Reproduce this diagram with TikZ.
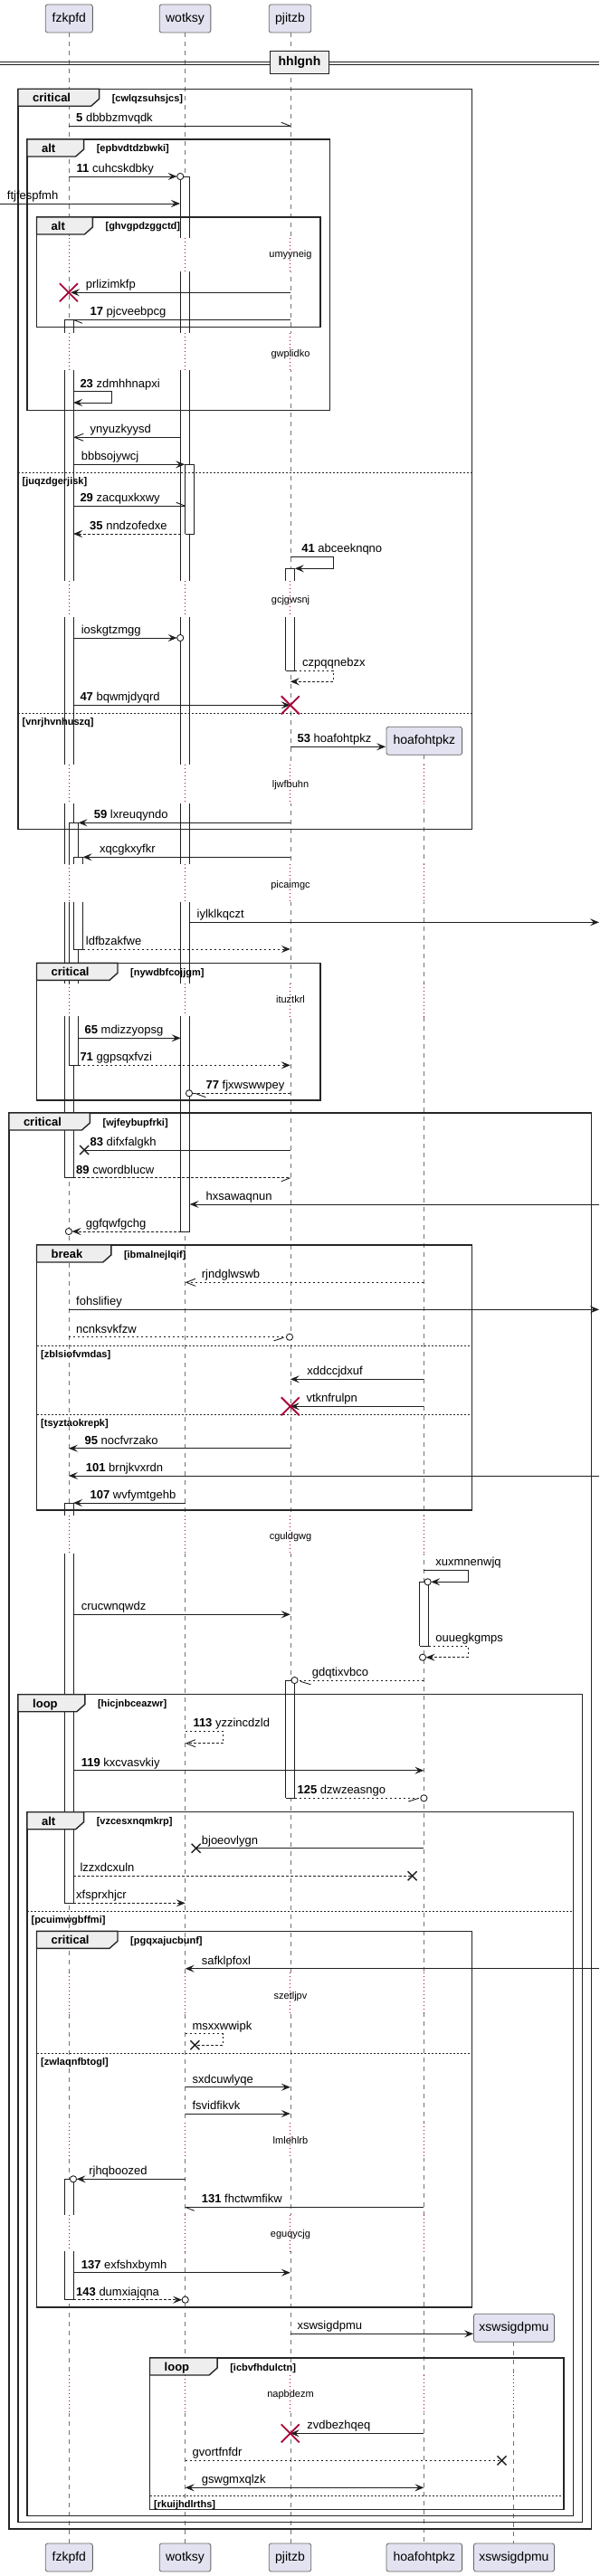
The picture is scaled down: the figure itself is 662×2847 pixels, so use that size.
\documentclass[tikz,border=0pt]{standalone}
\usepackage{fontspec}
\setmainfont{Liberation Sans}
\usetikzlibrary{arrows.meta}
\definecolor{crim}{RGB}{168,0,54}
\definecolor{partfill}{RGB}{226,226,240}
\definecolor{tabfill}{RGB}{238,238,238}
\tikzset{
  msg/.style={line width=0.9pt, draw=black!88},
  dmsg/.style={msg, dash pattern=on 2.5pt off 2.5pt},
  fh/.style={-{Stealth[length=10pt,width=8pt,inset=4pt]}},
  oh/.style={-{Straight Barb[length=10pt,width=8pt]}},
  life/.style={draw=black!55, line width=0.6pt, dash pattern=on 5pt off 5pt},
  dotl/.style={draw=crim, line width=0.8pt, dash pattern=on 0.8pt off 3.2pt},
  actl/.style={draw=black!88, line width=0.8pt},
  frame/.style={draw=black!85, line width=1.4pt},
  sepl/.style={draw=black!85, line width=0.8pt, dash pattern=on 2pt off 2pt},
  part/.style={draw=black!60, line width=0.8pt, fill=partfill, rounded corners=2.5pt, minimum height=31pt, inner sep=0pt, font=\fontsize{14}{16}\selectfont},
  lbl/.style={anchor=base west, inner sep=0pt, font=\fontsize{13}{15}\selectfont},
  flabel/.style={anchor=base west, inner sep=0pt, font=\bfseries\fontsize{13}{15}\selectfont},
  guard/.style={anchor=base west, inner sep=0pt, font=\bfseries\fontsize{11}{13}\selectfont},
  dtext/.style={anchor=base, inner sep=0pt, font=\fontsize{11}{13}\selectfont},
}
\newcommand\lbl[3]{\node[lbl] at (#1,#2-4.5) {#3};}
\newcommand\hh[4]{\draw[msg] (#1,#2) -- ++(#3,#4);}
\newcommand\cend[2]{\draw[msg,fill=white] (#1,#2) circle[radius=3.6pt];}
\newcommand\bx[2]{\draw[line width=1.4pt,black!88] (#1-5,#2-5) -- (#1+5,#2+5) (#1-5,#2+5) -- (#1+5,#2-5);}
\newcommand\rx[2]{\draw[line width=1.8pt,crim] (#1-10,#2-10) -- (#1+10,#2+10) (#1-10,#2+10) -- (#1+10,#2-10);}
\newcommand\aseg[4]{\fill[white] (#1,#3) rectangle (#2,#4); \draw[actl] (#1,#3) -- (#1,#4) (#2,#3) -- (#2,#4);}
\newcommand\acap[3]{\draw[actl] (#1,#3) -- (#2,#3);}
\newcommand\dly[5]{\foreach \xx in {#5}{\draw[white,line width=2.5pt] (\xx,#1) -- (\xx,#2); \draw[dotl] (\xx,#1) -- (\xx,#2);}
  \node[dtext] at (321,#4+3.5) {#3};}
\newcommand\frm[7]{%
  \draw[frame] (#1,#2) rectangle (#3,#4);
  \filldraw[frame,fill=tabfill] (#1,#2) -- (#5,#2) -- (#5,#2+11) -- (#5-9,#2+19) -- (#1,#2+19) -- cycle;
  \node[flabel] at (#1+16,#2+14.5) {#6};
  \node[guard] at (#5+14,#2+14) {#7};}
\newcommand\frsep[4]{\draw[sepl] (#1,#3) -- (#2,#3); \node[guard] at (#1+4.5,#3+13) {#4};}
\begin{document}
\begin{tikzpicture}[x=1pt,y=-1pt]
\useasboundingbox (0,0) rectangle (662,2847);
% participants
\node[part, minimum width=52.1pt] (pF) at (76.3,20.5) {fzkpfd};
\node[part, minimum width=56.7pt] (pW) at (204.5,20.5) {wotksy};
\node[part, minimum width=46.5pt] (pP) at (320.5,20.5) {pjitzb};
\node[part, minimum width=52.1pt] (pFb) at (76.3,2826.5) {fzkpfd};
\node[part, minimum width=56.7pt] (pWb) at (204.5,2826.5) {wotksy};
\node[part, minimum width=46.5pt] (pPb) at (320.5,2826.5) {pjitzb};
\node[part, minimum width=83.6pt] (pHb) at (468.8,2826.5) {hoafohtpkz};
\node[part, minimum width=89.1pt] (pXb) at (568,2826.5) {xswsigdpmu};
\node[part, minimum width=83.6pt] (pH) at (468.8,818.8) {hoafohtpkz};
\node[part, minimum width=89.1pt] (pX) at (568,2572.8) {xswsigdpmu};
% lifelines
\draw[life] (75.9,36) -- (75.9,2810.7);
\draw[life] (204.7,36) -- (204.7,2810.7);
\draw[life] (320.8,36) -- (320.8,2810.7);
\draw[life] (468.4,834.3) -- (468.4,2810.7);
\draw[life] (567.3,2588.3) -- (567.3,2810.7);
% delays
\dly{263.3}{300}{umyyneig}{280.7}{75.9,204.7,320.8}
\dly{368.3}{409}{gwplidko}{390.7}{75.9,204.7,320.8}
\dly{641.7}{681.7}{gcjgwsnj}{663.3}{75.9,204.7,320.8}
\dly{845}{887.7}{ljwfbuhn}{867.3}{75.9,204.7,320.8,468.4}
\dly{955}{996.7}{picaimgc}{977.7}{75.9,204.7,320.8,468.4}
\dly{1086.7}{1123.3}{ituztkrl}{1105}{75.9,204.7,320.8,468.4}
\dly{1675}{1716.7}{cguldgwg}{1698.3}{75.9,204.7,320.8,468.4}
\dly{2180}{2225}{szetljpv}{2205.7}{75.9,204.7,320.8,468.4}
\dly{2346}{2385}{lmlehlrb}{2366}{75.9,204.7,320.8,468.4}
\dly{2447.7}{2488.3}{eguqycjg}{2469.3}{75.9,204.7,320.8,468.4}
\dly{2625}{2666.7}{napbdezm}{2646}{75.9,204.7,320.8,468.4,567.3}
% activations fzkpfd
\aseg{71}{81}{353.3}{368.3}\acap{71}{81}{353.3}
\aseg{71}{81}{409}{641.7}
\aseg{71}{81}{681.7}{845}
\aseg{71}{81}{887.7}{955}
\aseg{71}{81}{996.7}{1086.7}
\aseg{71}{81}{1123.3}{1301.7}\acap{71}{81}{1301.7}
\aseg{76}{86.5}{909.3}{955}\acap{76}{86.5}{909.3}
\aseg{76}{86.5}{996.7}{1086.7}
\aseg{76}{86.5}{1123.3}{1177}\acap{76}{86.5}{1177}
\aseg{81}{91.5}{947.3}{955}\acap{81}{91.5}{947.3}
\aseg{81}{91.5}{996.7}{1049}\acap{81}{91.5}{1049}
\aseg{71}{81}{1661}{1675}\acap{71}{81}{1661}
\aseg{71}{81}{1716.7}{2103.3}\acap{71}{81}{2103.3}
\aseg{71}{81}{2408.3}{2447.7}\acap{71}{81}{2408.3}
\aseg{71}{81}{2488.3}{2541.7}\acap{71}{81}{2541.7}
% activations wotksy
\aseg{199.7}{209.7}{195}{263.3}\acap{199.7}{209.7}{195}
\aseg{199.7}{209.7}{300}{368.3}
\aseg{199.7}{209.7}{409}{641.7}
\aseg{199.7}{209.7}{681.7}{845}
\aseg{199.7}{209.7}{887.7}{955}
\aseg{199.7}{209.7}{996.7}{1086.7}
\aseg{199.7}{209.7}{1123.3}{1361}\acap{199.7}{209.7}{1361}
\aseg{204.7}{214.7}{513.3}{590}\acap{204.7}{214.7}{513.3}\acap{204.7}{214.7}{590}
% activations pjitzb
\aseg{315.8}{325.8}{628.3}{641.7}\acap{315.8}{325.8}{628.3}
\aseg{315.8}{325.8}{681.7}{741}\acap{315.8}{325.8}{741}
\aseg{315.8}{325.8}{1857}{1987.3}\acap{315.8}{325.8}{1857}\acap{315.8}{325.8}{1987.3}
% activation hoafohtpkz
\aseg{463.6}{473.6}{1748.3}{1819.3}\acap{463.6}{473.6}{1748.3}\acap{463.6}{473.6}{1819.3}
% divider
\draw[line width=0.9pt,black!88] (0,68.3) -- (662,68.3) (0,71) -- (662,71);
\node[draw=black!88, line width=1.4pt, fill=tabfill, minimum width=64.8pt, minimum height=25pt, inner sep=0pt, font=\bfseries\fontsize{14}{16}\selectfont] (div) at (331,69.2) {hhlgnh};
% frames
\frm{20}{98.3}{521.2}{916.7}{109.6}{critical}{[cwlqzsuhsjcs]}
\frsep{20}{521.2}{522.3}{[juqzdgerjisk]}
\frsep{20}{521.2}{788}{[vnrjhvnhuszq]}
\frm{29.9}{154}{364.7}{453.3}{92.6}{alt}{[epbvdtdzbwki]}
\frm{40.5}{240}{354}{361.7}{102.4}{alt}{[ghvgpdzggctd]}
\frm{40.5}{1064.3}{354}{1216}{130}{critical}{[nywdbfcojjgm]}
\frm{9.8}{1230}{653.5}{2795}{99.4}{critical}{[wjfeybupfrki]}
\frm{40.5}{1376}{521.2}{1669}{122.8}{break}{[ibmalnejlqif]}
\frsep{40.5}{521.2}{1487.3}{[zblsiofvmdas]}
\frsep{40.5}{521.2}{1563.3}{[tsyztaokrepk]}
\frm{20}{1872.7}{643.2}{2787.3}{93.8}{loop}{[hicjnbceazwr]}
\frm{29.9}{2002.7}{633.4}{2780.7}{92.6}{alt}{[vzcesxnqmkrp]}
\frsep{29.9}{633.4}{2112.3}{[pcuimwgbffmi]}
\frm{40.5}{2134.3}{521.2}{2550}{130}{critical}{[pgqxajucbunf]}
\frsep{40.5}{521.2}{2269.3}{[zwlaqnfbtogl]}
\frm{165.5}{2606}{622.8}{2773.3}{240.1}{loop}{[icbvfhdulctn]}
\frsep{165.5}{622.8}{2758.3}{[rkuijhdlrths]}
% messages
\draw[msg] (75.9,139.3) -- (320.8,139.3); \hh{320.8}{139.3}{-10}{-4}
\lbl{84}{139.3}{\textbf{5} dbbbzmvqdk}
\draw[msg,fh] (75.9,195) -- (195.6,195); \cend{199.2}{195}
\lbl{84.5}{195}{\textbf{11} cuhcskdbky}
\draw[msg,fh] (0,225) -- (199,225);
\lbl{7.7}{225}{ftjfespfmh}
\draw[msg,fh] (320.8,323.3) -- (78,323.3); \rx{75.9}{323.3}
\lbl{94.7}{323.3}{prlizimkfp}
\draw[msg] (320.8,353.3) -- (81,353.3); \hh{81}{353.3}{10}{4}
\lbl{99.4}{353.3}{\textbf{17} pjcveebpcg}
\draw[msg,fh] (81,432.7) -- (123.7,432.7) -- (123.7,445) -- (81,445);
\lbl{88.3}{432.7}{\textbf{23} zdmhhnapxi}
\draw[msg,oh] (199.7,483.3) -- (81,483.3);
\lbl{99.4}{483.3}{ynyuzkyysd}
\draw[msg,fh] (81,513.3) -- (204.2,513.3);
\lbl{89.6}{513.3}{bbbsojywcj}
\draw[msg] (81,559.3) -- (204.7,559.3); \hh{204.7}{559.3}{-10}{-4}
\lbl{88.3}{559.3}{\textbf{29} zacquxkxwy}
\draw[dmsg,fh] (199.7,590) -- (81,590);
\lbl{99}{590}{\textbf{35} nndzofedxe}
\draw[msg,fh] (320.8,615.3) -- (368.1,615.3) -- (368.1,628.3) -- (325.8,628.3);
\lbl{333.1}{615.3}{\textbf{41} abceeknqno}
\draw[msg,fh] (81,705) -- (195.6,705); \cend{199.2}{705}
\lbl{89.6}{705}{ioskgtzmgg}
\draw[dmsg,fh] (325.8,741) -- (368.1,741) -- (368.1,753.3) -- (320.8,753.3);
\lbl{334}{741}{czpqqnebzx}
\draw[msg,fh] (81,779.3) -- (320.8,779.3); \rx{320.8}{779.3}
\lbl{88.3}{779.3}{\textbf{47} bqwmjdyqrd}
\draw[msg,fh] (320.8,825.3) -- (426.2,825.3);
\lbl{328.4}{825.3}{\textbf{53} hoafohtpkz}
\draw[msg,fh] (320.8,909.3) -- (86.5,909.3);
\lbl{103.7}{909.3}{\textbf{59} lxreuqyndo}
\draw[msg,fh] (320.8,947.3) -- (91.5,947.3);
\lbl{110}{947.3}{xqcgkxyfkr}
\draw[msg,fh] (209.7,1019.3) -- (662,1019.3);
\lbl{217.5}{1019.3}{iylklkqczt}
\draw[dmsg,fh] (91.5,1049) -- (320.8,1049);
\lbl{94.7}{1049}{ldfbzakfwe}
\draw[msg,fh] (86.5,1147.3) -- (199.7,1147.3);
\lbl{93.4}{1147.3}{\textbf{65} mdizzyopsg}
\draw[dmsg,fh] (86.5,1177.3) -- (320.8,1177.3);
\lbl{88.3}{1177.3}{\textbf{71} ggpsqxfvzi}
\draw[dmsg] (320.8,1208.3) -- (212.6,1208.3); \cend{209}{1208.3} \hh{215.4}{1208.3}{12}{4.4}
\lbl{227.4}{1208.3}{\textbf{77} fjxwswwpey}
\draw[msg] (320.8,1271) -- (93.2,1271); \bx{93.2}{1271}
\lbl{99.4}{1271}{\textbf{83} difxfalgkh}
\draw[dmsg] (81,1301.7) -- (320.8,1301.7); \hh{320.8}{1301.7}{-10}{4}
\lbl{84}{1301.7}{\textbf{89} cwordblucw}
\draw[msg,fh] (662,1331) -- (209.7,1331);
\lbl{227.4}{1331}{hxsawaqnun}
\draw[dmsg,fh] (199.7,1361) -- (79.5,1361); \cend{75.9}{1361}
\lbl{94.7}{1361}{ggfqwfgchg}
\draw[dmsg,oh] (468.4,1417.3) -- (204.7,1417.3);
\lbl{222.7}{1417.3}{rjndglwswb}
\draw[msg,fh] (75.9,1447.3) -- (662,1447.3);
\lbl{84}{1447.3}{fohslifiey}
\draw[dmsg] (75.9,1477.7) -- (316.4,1477.7); \cend{320}{1477.7} \hh{313.5}{1478.3}{-11}{3.6}
\lbl{84}{1477.7}{ncnksvkfzw}
\draw[msg,fh] (468.4,1524.3) -- (320.8,1524.3);
\lbl{339.1}{1524.3}{xddccjdxuf}
\draw[msg,fh] (468.4,1554.3) -- (320.8,1554.3); \rx{320.8}{1554.3}
\lbl{338.3}{1554.3}{vtknfrulpn}
\draw[msg,fh] (320.8,1600.7) -- (75.9,1600.7);
\lbl{93.4}{1600.7}{\textbf{95} nocfvrzako}
\draw[msg,fh] (662,1631) -- (75.9,1631);
\lbl{94.7}{1631}{\textbf{101} brnjkvxrdn}
\draw[msg,fh] (204.7,1661) -- (81,1661);
\lbl{99.4}{1661}{\textbf{107} wvfymtgehb}
\draw[msg,fh] (468.4,1735) -- (517,1735) -- (517,1748.3) -- (476.2,1748.3); \cend{472.6}{1748.3}
\lbl{481.2}{1735}{xuxmnenwjq}
\draw[msg,fh] (81,1784.3) -- (320.8,1784.3);
\lbl{89.6}{1784.3}{crucwnqwdz}
\draw[dmsg,fh] (473.6,1819.3) -- (517,1819.3) -- (517,1831.7) -- (470.6,1831.7); \cend{467}{1831.7}
\lbl{481.2}{1819.3}{ouuegkgmps}
\draw[dmsg] (468.4,1857) -- (329.1,1857); \cend{325.5}{1857} \hh{331.9}{1858.3}{11.5}{3.4}
\lbl{344.7}{1857}{gdqtixvbco}
\draw[dmsg,oh] (204.7,1913.3) -- (246.5,1913.3) -- (246.5,1926.7) -- (204.7,1926.7);
\lbl{213.3}{1913.3}{\textbf{113} yzzincdzld}
\draw[msg,fh] (81,1956.7) -- (468.4,1956.7);
\lbl{89.6}{1956.7}{\textbf{119} kxcvasvkiy}
\draw[dmsg] (325.8,1987.3) -- (464.8,1987.3); \cend{468.4}{1987.3} \hh{462.8}{1987.3}{-11.5}{3.7}
\lbl{328.4}{1987.3}{\textbf{125} dzwzeasngo}
\draw[msg] (468.4,2042.7) -- (216.7,2042.7); \bx{216.7}{2042.7}
\lbl{222.7}{2042.7}{bjoeovlygn}
\draw[dmsg] (81,2073.3) -- (455.6,2073.3); \bx{455.6}{2073.3}
\lbl{88.3}{2073.3}{lzzxdcxuln}
\draw[dmsg,fh] (81,2103.3) -- (204.7,2103.3);
\lbl{84}{2103.3}{xfsprxhjcr}
\draw[msg,fh] (662,2175.7) -- (204.7,2175.7);
\lbl{222.7}{2175.7}{safklpfoxl}
\draw[dmsg] (204.7,2247.7) -- (246.5,2247.7) -- (246.5,2260.3) -- (215.4,2260.3); \bx{215.4}{2260.3}
\lbl{212.4}{2247.7}{msxxwwipk}
\draw[msg,fh] (204.7,2306.7) -- (320.8,2306.7);
\lbl{212.4}{2306.7}{sxdcuwlyqe}
\draw[msg,fh] (204.7,2336) -- (320.8,2336);
\lbl{212.4}{2336}{fsvidfikvk}
\draw[msg,fh] (204.7,2408.3) -- (84.6,2408.3); \cend{81}{2408.3}
\lbl{98.1}{2408.3}{rjhqboozed}
\draw[msg] (468.4,2439.3) -- (204.7,2439.3); \hh{204.7}{2439.3}{10}{4}
\lbl{222.7}{2439.3}{\textbf{131} fhctwmfikw}
\draw[msg,fh] (81,2511.7) -- (320.8,2511.7);
\lbl{89.6}{2511.7}{\textbf{137} exfshxbymh}
\draw[dmsg,fh] (81,2541.7) -- (201.1,2541.7); \cend{204.7}{2541.7}
\lbl{84}{2541.7}{\textbf{143} dumxiajqna}
\draw[msg,fh] (320.8,2579.3) -- (523,2579.3);
\lbl{328.4}{2579.3}{xswsigdpmu}
\draw[msg,fh] (468.4,2689.3) -- (320.8,2689.3); \rx{320.8}{2689.3}
\lbl{339.1}{2689.3}{zvdbezhqeq}
\draw[dmsg] (204.7,2719.3) -- (554.5,2719.3); \bx{554.5}{2719.3}
\lbl{212.4}{2719.3}{gvortfnfdr}
\draw[msg,{Stealth[length=10pt,width=8pt,inset=4pt]}-{Stealth[length=10pt,width=8pt,inset=4pt]}] (204.7,2749.3) -- (468.4,2749.3);
\lbl{222.7}{2749.3}{gswgmxqlzk}
\end{tikzpicture}
\end{document}
